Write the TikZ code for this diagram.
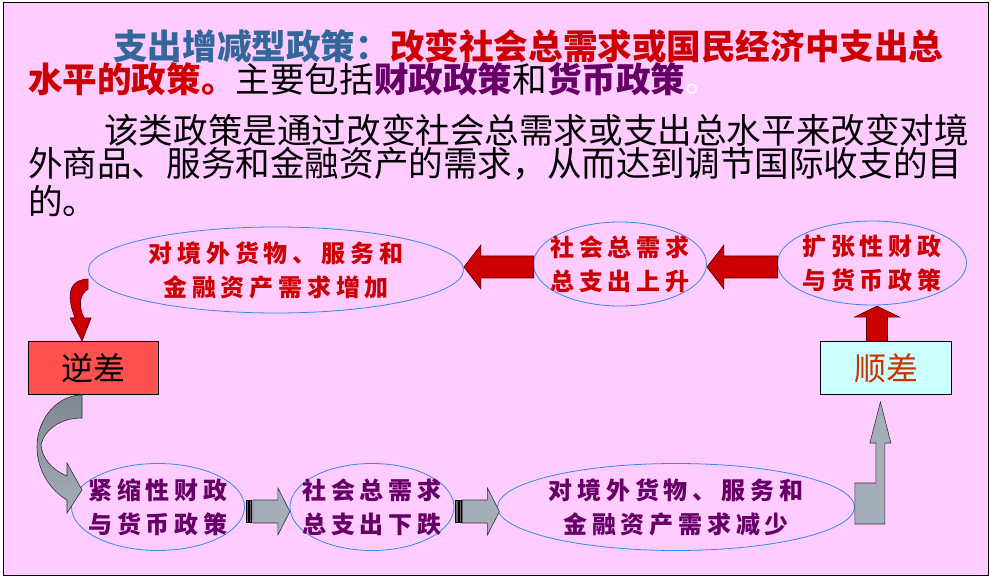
\documentclass[tikz,border=0pt]{standalone}
\usepackage{fontspec}
\usetikzlibrary{shapes.geometric}
\newfontfamily\cjk{Noto Sans CJK SC}
\newfontfamily\cjkwide{Noto Sans CJK SC}[LetterSpace=20]
\definecolor{bgpink}{HTML}{FFCCFF}
\definecolor{titleblue}{HTML}{336699}
\definecolor{policyred}{HTML}{CC0000}
\definecolor{policypurple}{HTML}{660066}
\definecolor{ovalblue}{HTML}{3388EE}
\definecolor{deficitred}{HTML}{FF5050}
\definecolor{surpluscyan}{HTML}{CCFFFF}
\definecolor{surplusorange}{HTML}{CC3300}
\definecolor{arrowgray}{HTML}{A3AEB8}
\definecolor{arrowdark}{HTML}{7F888F}

\begin{document}
\begin{tikzpicture}[x=1pt, y=-1pt,
    textline/.style={anchor=west, inner sep=0pt, font=\cjk\fontsize{34.6}{36}\selectfont},
    oval/.style={ellipse, draw=ovalblue, line width=0.8pt, inner sep=0pt},
    ovaltext/.style={align=center, inner sep=0pt, font=\cjkwide\bfseries\fontsize{24}{34}\selectfont},
    balance/.style={rectangle, draw=black, line width=0.8pt, minimum width=130pt, minimum height=53pt, font=\cjk\fontsize{32}{34}\selectfont},
    redblock/.style={fill=policyred, draw=black!70!red, line width=0.6pt, line join=miter},
    grayblock/.style={fill=arrowgray, draw=black!80, line width=0.6pt, line join=miter}]

    \useasboundingbox (0,0) rectangle (991,577);
    \draw[fill=bgpink, line width=1pt] (3,3) rectangle (988,575);

    % text above the diagram
    \node[textline] (head1) at (113,46) {\textcolor{titleblue}{\bfseries 支出增减型政策：}\textcolor{policyred}{\bfseries 改变社会总需求或国民经济中支出总}};
    \node[textline] (head2) at (28,79) {\textcolor{policyred}{\bfseries 水平的政策。}主要包括\textcolor{policypurple}{\bfseries 财政政策}和\textcolor{policypurple}{\bfseries 货币政策}\textcolor{white}{。}};
    \node[textline] (body1) at (104,130) {该类政策是通过改变社会总需求或支出总水平来改变对境};
    \node[textline] (body2) at (28,164) {外商品、服务和金融资产的需求，从而达到调节国际收支的目};
    \node[textline] (body3) at (28,201) {的。};

    % surplus chain
    \node[oval, minimum width=375pt, minimum height=86pt, label={[ovaltext, text=policyred]center:{对境外货物、服务和\\金融资产需求增加}}] (incr) at (276,270) {};
    \node[oval, minimum width=173pt, minimum height=84pt, label={[ovaltext, text=policyred]center:{社会总需求\\总支出上升}}] (rise) at (620,264) {};
    \node[oval, minimum width=189pt, minimum height=84pt, label={[ovaltext, text=policyred]center:{扩张性财政\\与货币政策}}] (expand) at (872,263) {};

    % deficit chain
    \node[oval, minimum width=173pt, minimum height=87pt, label={[ovaltext, text=policypurple]center:{紧缩性财政\\与货币政策}}] (tight) at (158,507) {};
    \node[oval, minimum width=164pt, minimum height=87pt, label={[ovaltext, text=policypurple]center:{社会总需求\\总支出下跌}}] (fall) at (372,507) {};
    \node[oval, minimum width=357pt, minimum height=87pt, label={[ovaltext, text=policypurple]center:{对境外货物、服务和\\金融资产需求减少}}] (decr) at (676,507) {};

    \node[balance, fill=deficitred] (deficit) at (93,368) {逆差};
    \node[balance, fill=surpluscyan, text=surplusorange, minimum width=131pt] (surplus) at (886,368) {顺差};

    % red block arrows
    \draw[redblock] ([xshift=-9pt]surplus.north) -- ++(-10.5,0) -- ++(0,-24) -- ++(-12,0) -- ++(22.5,-11) -- ++(22.5,11) -- ++(-12,0) -- ++(0,24) -- cycle;
    \draw[redblock] ([yshift=-3pt]rise.east) -- ++(17,-22) -- ++(0,11) -- ++(54,0) -- ++(0,22) -- ++(-54,0) -- ++(0,11) -- cycle;
    \draw[redblock] ([yshift=3pt]incr.east) -- ++(17,-22) -- ++(0,11) -- ++(53,0) -- ++(0,22) -- ++(-53,0) -- ++(0,11) -- cycle;
    \draw[redblock] ([yshift=-9pt]incr.west) .. controls +(-24,1) and +(-6,-15) .. ++(-13,39) -- ++(-5,0) -- ++(12,23) -- ++(9,-23) -- ++(-7,0) .. controls +(-5,-10) and +(-10,6) .. ([yshift=-19pt]incr.west) -- cycle;

    % gray block arrows
    \draw[grayblock, top color=arrowdark, bottom color=arrowgray] ([xshift=-11pt]deficit.south) .. controls (58,395) and (37,418) .. (37,447) .. controls (37,470) and (50,490) .. (67,500) -- (67,513) -- (82,490) -- (67,463) -- (67,476) .. controls (52,470) and (42,458) .. (41,445) .. controls (44,430) and (60,418) .. (82,418) -- cycle;
    \foreach \src in {tight, fall} {
        \draw[grayblock] ([yshift=-4pt]\src.east) ++(8,-11) -- ++(25,0) -- ++(0,-12) -- ++(12,23.5) -- ++(-12,23.5) -- ++(0,-12) -- ++(-25,0) -- cycle;
        \draw[fill=black!60, line width=0.4pt] ([yshift=-4pt]\src.east) ++(1,-11) rectangle ++(2.5,22);
        \draw[fill=black!60, line width=0.4pt] ([yshift=-4pt]\src.east) ++(4.5,-11) rectangle ++(2,22);
    }
    \draw[grayblock] ([yshift=24pt]decr.east) -- ++(21,0) -- ++(0,-40) -- ++(-6,0) -- ++(10.5,-41) -- ++(10.5,41) -- ++(-6,0) -- ++(0,81) -- ++(-30,0) -- cycle;
\end{tikzpicture}
\end{document}
